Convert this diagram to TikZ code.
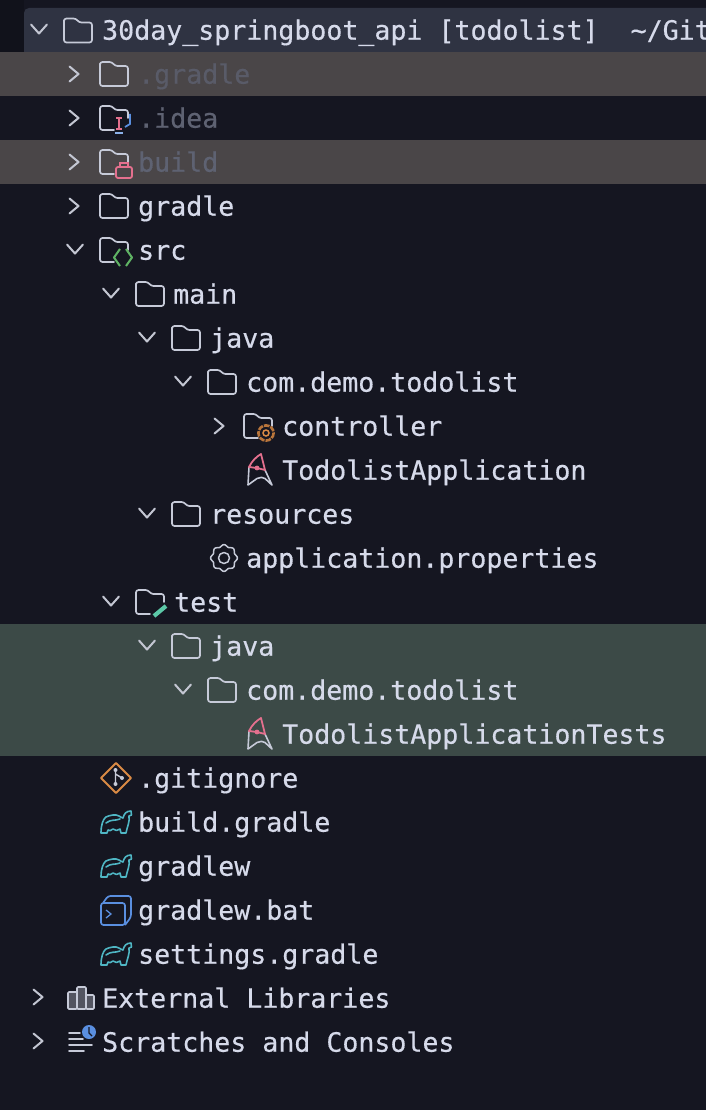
\documentclass[tikz,border=0pt]{standalone}
\usepackage{fontspec}
\newfontfamily\treefont[FakeBold=0.45]{DejaVu Sans Mono}
\definecolor{bgc}{HTML}{151621}
\definecolor{bgl}{HTML}{11121B}
\definecolor{rootc}{HTML}{2F3342}
\definecolor{grayrow}{HTML}{4A4648}
\definecolor{greenrow}{HTML}{3C4A47}
\definecolor{txt}{HTML}{D6DAEA}
\definecolor{dimtxt}{HTML}{5E6272}
\definecolor{icn}{HTML}{C6CAD8}
\definecolor{chev}{HTML}{C3C6D2}
\definecolor{pinkc}{HTML}{E4708E}
\definecolor{cyanc}{HTML}{4FB6C4}
\definecolor{orangec}{HTML}{D98A45}
\definecolor{greenc}{HTML}{5FB364}
\definecolor{tealc}{HTML}{5CC8A8}
\definecolor{bluec}{HTML}{5A8FE0}
\tikzset{
  x=1pt,y=-1pt,
  lbl/.style={anchor=base west,inner sep=0pt,yshift=-0.7pt,font=\treefont\fontsize{26.6}{30}\selectfont,text=txt},
  dimlbl/.style={lbl,text=dimtxt},
  ico/.style={draw=icn,line width=1.7pt,line join=round,line cap=round},
  chv/.style={draw=chev,line width=2pt,line join=round,line cap=round},
  pics/chevr/.style={code={\draw[chv] (-4.5,-7.5) -- (4.5,0) -- (-4.5,7.5);}},
  pics/chevd/.style={code={\draw[chv] (-8,-4.5) -- (0,4.5) -- (8,-4.5);}},
  pics/folder/.style={code={\draw[ico,rounded corners=2.5pt] (0,-8) -- (0,-12) -- (12,-12) -- (15,-8) -- (28,-8) -- (28,12) -- (0,12) -- cycle;}},
  pics/folderb/.style={code={\draw[ico,rounded corners=2.5pt] (14,12) -- (0,12) -- (0,-12) -- (12,-12) -- (15,-8) -- (28,-8) -- (28,0);}},
  pics/elephant/.style={code={\draw[cyanc,line width=1.6pt,line join=round,line cap=round]
    (1,11) .. controls (1,3) and (3,-3) .. (6,-5) .. controls (10,-7) and (16,-8) .. (19,-6) .. controls (21,-5) and (22,-4) .. (23,-4)
    .. controls (24,-8) and (26,-11) .. (31,-11) -- (31.5,-7) -- (29,-6) .. controls (30,0) and (27,5) .. (26,11) -- (21,11) -- (20,7) .. controls (18,9) and (15,9) .. (13,7) .. controls (11,9) and (9,9) .. (8,8) -- (7,11) -- cycle
    (6,1) .. controls (11,-3) and (15,-1) .. (20,-3);}},
  pics/duke/.style={code={
    \draw[icn,line width=1.6pt,line join=round] (-11,-3) -- (-12,15) -- (-3,8.5) .. controls (0,7) and (3,7) .. (5,8.5) -- (12,15) -- (5,0);
    \draw[pinkc,line width=1.8pt,line join=round] (-11,-3) .. controls (-8,-9) and (-4,-13) .. (1,-16) -- (5,0) -- (-3,-2) -- cycle;
    \fill[pinkc] (-3,-2) circle (2.4);
  }},
}
\begin{document}
\begin{tikzpicture}
\useasboundingbox (0,0) rectangle (706,1110);
\fill[bgc] (0,0) rectangle (706,1110);
\fill[bgl] (0,0) rectangle (24,52);
\fill[rootc,rounded corners=5pt] (24,8) rectangle (720,60);
\fill[grayrow] (0,52) rectangle (706,96);
\fill[grayrow] (0,140) rectangle (706,184);
\fill[greenrow] (0,624) rectangle (706,756);

% rows
\pic at (39,29) {chevd};
\pic at (64,30.5) {folder};
\node[lbl] (root) at (102,39) {30day\_springboot\_api [todolist]\ \ \char"007E/Git};

\pic at (74,74) {chevr};
\pic at (100,74) {folder};
\node[dimlbl,text=dimtxt!75!grayrow] (dgradle) at (138,83) {.gradle};

\pic at (74,118) {chevr};
\pic at (100,118) {folderb};
\draw[pinkc,line width=1.6pt] (116,118) -- (122,118) (116,129) -- (122,129);
\draw[pinkc,line width=2.6pt] (119,118) -- (119,129);
\draw[bluec!70,line width=1.6pt] (115,133) -- (123,133);
\draw[bluec,line width=1.8pt] (130,114) -- (130,124) -- (125,127);
\node[dimlbl] (didea) at (138,127) {.idea};

\pic at (74,162) {chevr};
\pic at (100,162) {folderb};
\draw[pinkc,line width=1.8pt,rounded corners=2pt] (116,167) rectangle (132,178);
\draw[pinkc,line width=1.8pt] (120,167) -- (120,163) -- (128,163) -- (128,167);
\node[dimlbl] (build) at (138,171) {build};

\pic at (74,206) {chevr};
\pic at (100,206) {folder};
\node[lbl] (gradle) at (138,215) {gradle};

\pic at (75,249) {chevd};
\pic at (100,250) {folderb};
\draw[greenc,line width=2pt,line join=round] (120,249) -- (114,257.5) -- (120,266) (126,249) -- (132,257.5) -- (126,266);
\node[lbl] (src) at (138,259) {src};

\pic at (111,293) {chevd};
\pic at (136,294) {folder};
\node[lbl] (mainf) at (173,303) {main};

\pic at (147,337) {chevd};
\pic at (172,338) {folder};
\node[lbl] (java1) at (210,347) {java};

\pic at (183,381) {chevd};
\pic at (208,382) {folder};
\node[lbl] (com1) at (246,391) {com.demo.todolist};

\pic at (219,426) {chevr};
\pic at (244,426) {folderb};
\draw[orangec!85!black,line width=2.6pt,dash pattern=on 5.6pt off 1.1pt] (266,433) circle (7.6);
\draw[orangec,line width=1.5pt] (266,433) circle (3);
\node[lbl] (ctrl) at (282,435) {controller};

\pic at (260,470) {duke};
\node[lbl] (app) at (282,479) {TodolistApplication};

\pic at (147,513) {chevd};
\pic at (172,514) {folder};
\node[lbl] (res) at (210,523) {resources};

\begin{scope}[shift={(224,558)}]
\draw[ico,line width=1.5pt] plot[domain=0:360,samples=65,smooth cycle,variable=\t] ({(12.4+cos(8*\t))*cos(\t)},{(12.4+cos(8*\t))*sin(\t)});
\draw[ico,line width=1.5pt] (0,0) circle (5.5);
\end{scope}
\node[lbl] (props) at (246,567) {application.properties};

\pic at (111,601) {chevd};
\pic at (136,602) {folderb};
\draw[tealc,line width=4.2pt] (154,616) -- (166,606);
\node[lbl] (test) at (174,611) {test};

\pic at (147,645) {chevd};
\pic at (172,646) {folder};
\node[lbl] (java2) at (210,655) {java};

\pic at (183,689) {chevd};
\pic at (208,690) {folder};
\node[lbl] (com2) at (246,699) {com.demo.todolist};

\pic at (260,734) {duke};
\node[lbl] (tests) at (282,743) {TodolistApplicationTests};

\draw[orangec,line width=2pt,line join=round] (116,763) -- (131,778) -- (116,793) -- (101,778) -- cycle;
\draw[icn,line width=1.4pt] (115.5,770) -- (115.5,784) (115.5,774) -- (122,778);
\fill[icn] (115.5,770) circle (2) (115.5,784) circle (2) (122,778) circle (2);
\node[lbl] (git) at (138,787) {.gitignore};

\pic at (100,822) {elephant};
\node[lbl] (bg) at (138,831) {build.gradle};

\pic at (100,866) {elephant};
\node[lbl] (gw) at (138,875) {gradlew};

\draw[bluec,line width=1.7pt,line join=round,rounded corners=2.5pt] (101,903) rectangle (125,925);
\draw[bluec,line width=1.7pt,line join=round,rounded corners=2.5pt] (103,903) -- (108,896) -- (131,896) -- (131,917) -- (125,925);
\draw[bluec,line width=1.3pt] (106,910) -- (111,914) -- (106,918);
\node[lbl] (gwb) at (138,919) {gradlew.bat};

\pic at (100,954) {elephant};
\node[lbl] (sg) at (138,963) {settings.gradle};

\pic at (38,997) {chevr};
\draw[ico,fill=icn!35!bgc,rounded corners=1pt] (68,1009) rectangle (77,992);
\draw[ico,fill=icn!35!bgc,rounded corners=1pt] (77,1009) rectangle (86,987);
\draw[ico,fill=icn!35!bgc,rounded corners=1pt] (86,1009) rectangle (94,995);
\node[lbl] (ext) at (102,1007) {External Libraries};

\pic at (38,1041) {chevr};
\draw[ico,line width=1.7pt] (69,1033) -- (80,1033) (69,1039) -- (83,1039) (69,1045) -- (92,1045) (69,1051) -- (84,1051);
\fill[bluec] (89,1032) circle (7);
\draw[bgc,line width=1.2pt] (89,1027) -- (89,1033) -- (92,1036);
\node[lbl] (scr) at (102,1051) {Scratches and Consoles};
\end{tikzpicture}
\end{document}
